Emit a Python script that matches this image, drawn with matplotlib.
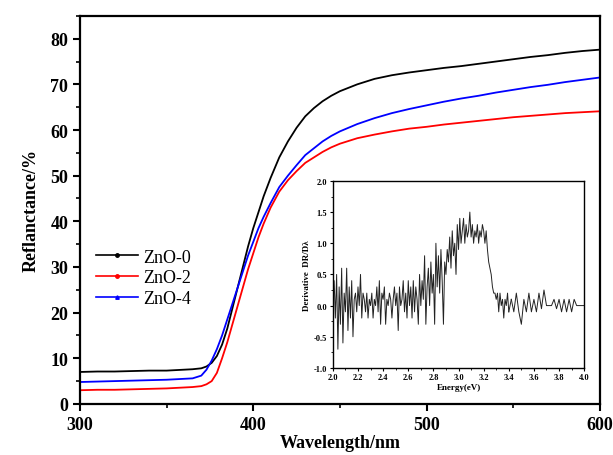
import numpy as np
import matplotlib.pyplot as plt
from matplotlib.ticker import MultipleLocator
from matplotlib.lines import Line2D

plt.rcParams['font.family'] = ['Liberation Serif', 'DejaVu Serif']

# main curves: wavelength (nm) vs reflectance (%)
wl = [300, 310, 320, 330, 340, 350, 360, 365, 370, 373, 376, 379, 382, 385, 388,
      391, 394, 397, 400, 403, 406, 410, 415, 420, 425, 430, 435, 440, 445, 450,
      460, 470, 480, 490, 500, 510, 520, 530, 540, 550, 560, 570, 580, 590, 600]

zno0 = [7.0, 7.1, 7.1, 7.2, 7.3, 7.3, 7.5, 7.6, 7.8, 8.2, 9.0, 10.5, 13.0, 16.5, 21.0,
        25.5, 30.0, 34.5, 38.5, 42.0, 45.5, 49.5, 54.0, 57.5, 60.5, 63.0, 64.8, 66.3, 67.5, 68.5,
        70.0, 71.2, 72.0, 72.6, 73.1, 73.6, 74.0, 74.5, 75.0, 75.5, 76.0, 76.4, 76.9, 77.3, 77.6]

zno2 = [3.0, 3.1, 3.1, 3.2, 3.3, 3.4, 3.6, 3.7, 3.9, 4.3, 5.0, 6.8, 10.0, 13.5, 17.5,
        21.5, 25.5, 29.5, 33.0, 36.5, 39.5, 43.0, 46.5, 49.0, 51.0, 52.8, 54.0, 55.2, 56.2, 57.0,
        58.2, 59.0, 59.7, 60.3, 60.7, 61.2, 61.6, 62.0, 62.4, 62.8, 63.1, 63.4, 63.7, 63.9, 64.1]

zno4 = [4.8, 4.9, 5.0, 5.1, 5.2, 5.3, 5.5, 5.6, 6.2, 7.5, 9.5, 12.0, 15.0, 18.5, 22.0,
        25.5, 29.0, 32.5, 35.5, 38.5, 41.0, 44.0, 47.5, 50.0, 52.3, 54.5, 56.0, 57.5, 58.7, 59.7,
        61.3, 62.6, 63.7, 64.6, 65.4, 66.2, 66.9, 67.5, 68.2, 68.8, 69.4, 69.9, 70.5, 71.0, 71.5]

labels = ['ZnO-0', 'ZnO-2', 'ZnO-4']
colors = ['black', 'red', 'blue']
markers = ['o', 'o', '^']

# inset: derivative DR/Dλ vs energy
energy_a = np.round(np.arange(2.00, 3.405, 0.01), 2)
deriv_a = [0.0, 0.4, -0.2, 0.5, -0.7, 0.3, -0.3, 0.6, -0.6, 0.2, -0.1,
           0.6, -0.4, 0.3, -0.2, 0.4, -0.5, 0.1, 0.2, -0.1, 0.3,
           0.0, 0.5, -0.2, 0.2, 0.1, -0.1, 0.2, -0.2, 0.1, 0.0,
           0.2, -0.2, 0.1, 0.0, 0.3, -0.1, 0.4, -0.3, 0.2, 0.1,
           0.3, -0.3, 0.1, 0.0, 0.2, 0.1, -0.2, 0.1, 0.3, 0.0,
           0.2, -0.4, 0.3, 0.0, 0.1, 0.4, -0.1, 0.2, -0.2, 0.4,
           0.0, 0.3, -0.2, 0.4, -0.1, 0.3, 0.1, -0.3, 0.5, 0.0,
           0.4, 0.1, 0.8, -0.3, 0.3, 0.6, 0.0, 0.7, 0.2, 0.5,
           -0.3, 1.0, 0.3, 0.8, 0.2, 0.9, 0.4, -0.3, 0.7, 0.5,
           0.9, 0.7, 1.1, 0.6, 1.2, 0.8, 1.0, 0.5, 1.3, 0.9,
           1.4, 1.0, 1.2, 1.4, 1.0, 1.3, 1.1, 1.2, 1.5, 1.1,
           1.3, 1.0, 1.2, 1.1, 1.3, 1.0, 1.2, 1.1, 1.3, 1.2,
           1.0, 1.2, 0.9, 0.7, 0.6, 0.5, 0.3, 0.2, 0.2, 0.1,
           0.2, -0.1, 0.2, 0.0, 0.1, -0.2, 0.1, 0.0, 0.2, -0.1]
energy_b = np.round(np.arange(3.42, 4.005, 0.02), 2)
deriv_b = [0.1, -0.1, 0.2, -0.1, -0.3, 0.1, -0.1, 0.2, -0.1, 0.1,
           -0.1, 0.2, -0.05, 0.25, 0.0, 0.0, 0.0, 0.1, -0.05, 0.1,
           -0.1, 0.1, -0.1, 0.1, -0.1, 0.1, 0.0, 0.0, 0.0, 0.0]

fig = plt.figure(figsize=(6.13, 4.56), dpi=100)
ax = fig.add_axes([0.1305, 0.112, 0.848, 0.851])

for y, c, lab in zip([zno0, zno2, zno4], colors, labels):
    ax.plot(wl, y, color=c, lw=1.3, label=lab)

ax.set_xlim(300, 600)
ax.set_ylim(0, 85)
ax.xaxis.set_major_locator(MultipleLocator(100))
ax.xaxis.set_minor_locator(MultipleLocator(50))
ax.yaxis.set_major_locator(MultipleLocator(10))
ax.yaxis.set_minor_locator(MultipleLocator(5))
ax.tick_params(which='major', direction='out', length=5, width=1.5, labelsize=13)
ax.tick_params(which='minor', direction='out', length=3, width=1.2)
for lbl in ax.get_xticklabels() + ax.get_yticklabels():
    lbl.set_fontweight('bold')
for s in ax.spines.values():
    s.set_linewidth(1.6)
ax.set_xlabel('Wavelength/nm', fontsize=13, fontweight='bold', labelpad=1)
ax.set_ylabel('Reflanctance/%', fontsize=13, fontweight='bold', labelpad=8)

handles = [Line2D([], [], color=c, lw=1.2, marker=m, ms=2.5) for c, m in zip(colors, markers)]
ax.legend(handles, labels, loc='center left', bbox_to_anchor=(0.0, 0.325),
          frameon=False, fontsize=13, handlelength=2.3, handletextpad=0.3,
          labelspacing=0.2)

# inset
ins = fig.add_axes([0.543, 0.191, 0.41, 0.41])
ins.plot(energy_a, deriv_a, color='#222222', lw=0.7)
ins.plot(energy_b, deriv_b, color='#222222', lw=0.7)
ins.plot([energy_a[-1], energy_b[0]], [deriv_a[-1], deriv_b[0]], color='#222222', lw=0.7)
ins.set_xlim(2.0, 4.0)
ins.set_ylim(-1.0, 2.0)
ins.xaxis.set_major_locator(MultipleLocator(0.2))
ins.xaxis.set_minor_locator(MultipleLocator(0.1))
ins.yaxis.set_major_locator(MultipleLocator(0.5))
ins.yaxis.set_minor_locator(MultipleLocator(0.25))
ins.tick_params(which='major', direction='out', length=2.5, width=0.8, labelsize=6, pad=1.5)
ins.tick_params(which='minor', direction='out', length=1.5, width=0.6)
for lbl in ins.get_xticklabels() + ins.get_yticklabels():
    lbl.set_fontweight('bold')
ins.xaxis.set_major_formatter(plt.FormatStrFormatter('%.1f'))
ins.yaxis.set_major_formatter(plt.FormatStrFormatter('%.1f'))
for s in ins.spines.values():
    s.set_linewidth(1.0)
ins.set_xlabel('Energy(eV)', fontsize=6.5, fontweight='bold', labelpad=1)
ins.set_ylabel('Derivative  DR/Dλ', fontsize=6.5, fontweight='bold', labelpad=2)

fig.savefig('out.png', dpi=100)
